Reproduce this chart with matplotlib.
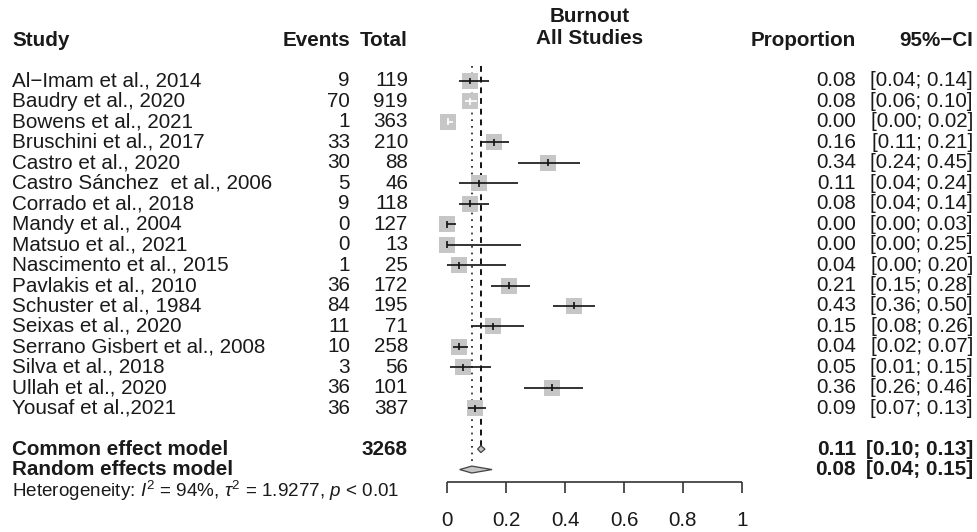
import matplotlib
matplotlib.use("Agg")
import matplotlib.pyplot as plt
from matplotlib.patches import Polygon

plt.rcParams['font.family'] = ['Liberation Sans', 'DejaVu Sans']
plt.rcParams['mathtext.fontset'] = 'custom'
plt.rcParams['mathtext.rm'] = 'Liberation Sans'
plt.rcParams['mathtext.it'] = 'Liberation Sans:italic'
plt.rcParams['mathtext.bf'] = 'Liberation Sans:bold'

# ---------------- data ----------------
studies = ["Al\u2212Imam et al., 2014", "Baudry et al., 2020", "Bowens et al., 2021",
           "Bruschini et al., 2017", "Castro et al., 2020", "Castro S\u00e1nchez  et al., 2006",
           "Corrado et al., 2018", "Mandy et al., 2004", "Matsuo et al., 2021",
           "Nascimento et al., 2015", "Pavlakis et al., 2010", "Schuster et al., 1984",
           "Seixas et al., 2020", "Serrano Gisbert et al., 2008", "Silva et al., 2018",
           "Ullah et al., 2020", "Yousaf et al.,2021"]
events = [9, 70, 1, 33, 30, 5, 9, 0, 0, 1, 36, 84, 11, 10, 3, 36, 36]
totals = [119, 919, 363, 210, 88, 46, 118, 127, 13, 25, 172, 195, 71, 258, 56, 101, 387]
props = [0.076, 0.076, 0.003, 0.157, 0.341, 0.109, 0.076, 0.0, 0.0, 0.040,
         0.209, 0.431, 0.154, 0.039, 0.054, 0.356, 0.093]
lower = [0.04, 0.06, 0.00, 0.11, 0.24, 0.04, 0.04, 0.00, 0.00, 0.00,
         0.15, 0.36, 0.08, 0.02, 0.01, 0.26, 0.07]
upper = [0.14, 0.10, 0.02, 0.21, 0.45, 0.24, 0.14, 0.03, 0.25, 0.20,
         0.28, 0.50, 0.26, 0.07, 0.15, 0.46, 0.13]
total_n = 3268
common_est, common_lo, common_hi = 0.114, 0.103, 0.128
random_est, random_lo, random_hi = 0.083, 0.042, 0.152
xticks = [0, 0.2, 0.4, 0.6, 0.8, 1]
xtick_labels = ["0", "0.2", "0.4", "0.6", "0.8", "1"]
title_lines = ["Burnout", "All Studies"]
heterogeneity = r"Heterogeneity: $I^2$ = 94%, $\tau^2$ = 1.9277, $p$ < 0.01"

# ---------------- layout ----------------
W, H = 978, 532
PX0, PX1 = 447.3, 741.7          # pixel of x=0 and x=1
S = PX1 - PX0
Y0, DY = 81.0, 20.45             # pixel of first row and row spacing

fig = plt.figure(figsize=(W / 100, H / 100), dpi=100)
ax = fig.add_axes([0, 0, 1, 1])
ax.set_xlim((0 - PX0) / S, (W - PX0) / S)
ax.set_ylim((H - Y0) / DY, (0 - Y0) / DY)
ax.axis("off")

def px(x):
    return (x - PX0) / S

def py(y):
    return (y - Y0) / DY

FS = 14.9
FS_H = 13.6
TC = "#1a1a1a"
SQ = "#c6c6c6"

# header
hy = py(40)
ax.text(px(12), hy, "Study", ha="left", va="center", fontsize=FS, fontweight="bold", color=TC)
ax.text(px(350), hy, "Events", ha="right", va="center", fontsize=FS, fontweight="bold", color=TC)
ax.text(px(408), hy, "Total", ha="right", va="center", fontsize=FS, fontweight="bold", color=TC)
ax.text(px(856), hy, "Proportion", ha="right", va="center", fontsize=FS, fontweight="bold", color=TC)
ax.text(px(973), hy, "95%\u2212CI", ha="right", va="center", fontsize=FS, fontweight="bold", color=TC)
ax.text(px(589.5), py(17), title_lines[0], ha="center", va="center", fontsize=FS, fontweight="bold", color=TC)
ax.text(px(589.5), py(38.5), title_lines[1], ha="center", va="center", fontsize=FS, fontweight="bold", color=TC)

half = 8.0 / S  # half width of square in data units
for i, name in enumerate(studies):
    ax.text(px(12), i, name, ha="left", va="center", fontsize=FS, color=TC)
    ax.text(px(350), i, str(events[i]), ha="right", va="center", fontsize=FS, color=TC)
    ax.text(px(408), i, str(totals[i]), ha="right", va="center", fontsize=FS, color=TC)
    ax.text(px(856), i, f"{props[i]:.2f}", ha="right", va="center", fontsize=FS, color=TC)
    ax.text(px(973), i, f"[{lower[i]:.2f}; {upper[i]:.2f}]", ha="right", va="center", fontsize=FS, color=TC)

rows = list(range(len(studies)))
ax.scatter(props, rows, marker="s", s=135, color=SQ, linewidths=0, zorder=2)
for i in rows:
    inside = (lower[i] >= props[i] - half) and (upper[i] <= props[i] + half)
    col = "white" if inside else "#111111"
    ax.hlines(i, lower[i], upper[i], color=col, lw=1.2, zorder=3)
    ax.vlines(props[i], i - 0.17, i + 0.17, color=col, lw=1.2, zorder=4)

# pooled rows
rc, rr = 18, 19
ax.text(px(12), rc, "Common effect model", ha="left", va="center", fontsize=FS, fontweight="bold", color=TC)
ax.text(px(408), rc, str(total_n), ha="right", va="center", fontsize=FS, fontweight="bold", color=TC)
ax.text(px(856), rc, f"{common_est:.2f}", ha="right", va="center", fontsize=FS, fontweight="bold", color=TC)
ax.text(px(973), rc, f"[{common_lo:.2f}; {common_hi:.2f}]", ha="right", va="center", fontsize=FS, fontweight="bold", color=TC)
ax.text(px(12), rr, "Random effects model", ha="left", va="center", fontsize=FS, fontweight="bold", color=TC)
ax.text(px(856), rr, f"{random_est:.2f}", ha="right", va="center", fontsize=FS, fontweight="bold", color=TC)
ax.text(px(973), rr, f"[{random_lo:.2f}; {random_hi:.2f}]", ha="right", va="center", fontsize=FS, fontweight="bold", color=TC)
ax.text(px(12), 20.05, heterogeneity, ha="left", va="center", fontsize=FS_H, color=TC)

dh = 0.17
for est, lo, hi, r in [(common_est, common_lo, common_hi, rc), (random_est, random_lo, random_hi, rr)]:
    ax.add_patch(Polygon([(lo, r), (est, r - dh), (hi, r), (est, r + dh)], closed=True,
                         facecolor=SQ, edgecolor="#444444", lw=0.9, zorder=3))

top = py(66)
ax.vlines(common_est, top, rc - dh, color="#111111", lw=1.4, linestyles=(0, (3, 2.5)), zorder=1)
ax.vlines(random_est, top, rr - dh, color="#111111", lw=1.2, linestyles=(0, (1, 3)), zorder=1)

# x axis
ay = py(482)
ax.hlines(ay, xticks[0], xticks[-1], color="#333333", lw=1.2)
ax.vlines(xticks, ay, py(493), color="#333333", lw=1.2)
for t, lab in zip(xticks, xtick_labels):
    ax.text(t, py(520), lab, ha="center", va="center", fontsize=FS, color=TC)

fig.savefig("out.png", dpi=100)
